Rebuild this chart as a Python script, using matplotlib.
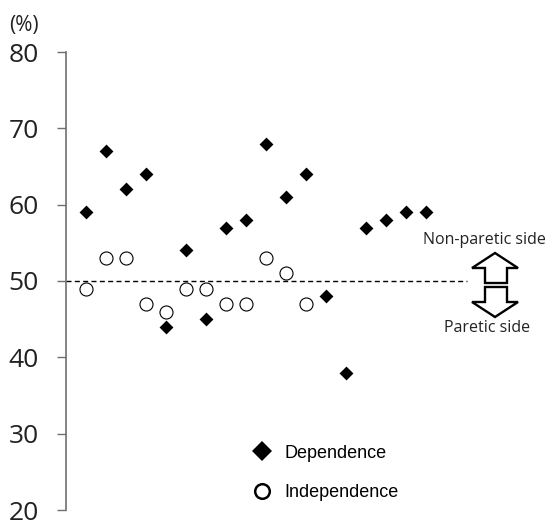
import matplotlib
matplotlib.use("Agg")
import matplotlib.pyplot as plt
from matplotlib.lines import Line2D
from matplotlib.patches import Polygon

# subject index along the x axis
subjects = list(range(1, 19))
dependence = [59, 67, 62, 64, 44, 54, 45, 57, 58, 68, 61, 64, 48, 38, 57, 58, 59, 59]
independence = [49, 53, 53, 47, 46, 49, 49, 47, 47, 53, 51, 47]
y_ticks = [20, 30, 40, 50, 60, 70, 80]
legend_labels = ["Dependence", "Independence"]

W, H = 550, 520


def px(x, y):
    """pixel position (from top-left) -> figure fraction"""
    return x / W, 1 - y / H


fig = plt.figure(figsize=(5.5, 5.2), dpi=100)
ax = fig.add_axes([66 / W, 1 - 510 / H, 462 / W, 458 / H])

ax.hlines(50, 0, 20.05, colors="black", linestyles=(0, (3.6, 2.4)), linewidth=1, zorder=1)
ax.scatter(subjects, dependence, marker="D", s=50, color="black", linewidths=0, zorder=3)
ax.scatter(subjects[:len(independence)], independence, marker="o", s=88,
           facecolors="white", edgecolors="black", linewidths=0.8, zorder=4)

ax.set_xlim(0, 23.1)
ax.set_ylim(20, 80)
ax.set_yticks(y_ticks)
ax.set_xticks([])
for side in ["top", "right", "bottom"]:
    ax.spines[side].set_visible(False)
ax.spines["left"].set_color("#707070")
ax.spines["left"].set_linewidth(1.2)
ax.tick_params(axis="y", direction="out", length=6.5, width=1, color="#707070", pad=13,
               labelsize=19, labelcolor="#222222")
for lab in ax.get_yticklabels():
    lab.set_fontfamily("Open Sans")
    lab.set_clip_on(False)

fig.text(*px(9, 25), "(%)", fontsize=15, family="Open Sans", color="#222222", va="center", ha="left")

# legend
handles = [
    Line2D([], [], linestyle="none", marker="D", markersize=10.5, color="black", markeredgewidth=0),
    Line2D([], [], linestyle="none", marker="o", markersize=10.5, markerfacecolor="white",
           markeredgecolor="black", markeredgewidth=1.8),
]
fig.legend(handles, legend_labels, loc="center left", bbox_to_anchor=px(244, 473),
           frameon=False, borderpad=0, handlelength=1.0, handletextpad=0.75,
           labelspacing=1.25, prop={"family": "Liberation Sans", "size": 13})

# up / down block arrows
up = [(495, 253), (518, 268), (507, 268), (507, 283), (485, 283), (485, 268), (472, 268)]
down = [(485, 287), (507, 287), (507, 302), (518, 302), (495, 317), (472, 302), (485, 302)]
for shape in (up, down):
    fig.add_artist(Polygon([px(x, y) for x, y in shape], closed=True, facecolor="white",
                           edgecolor="black", linewidth=1.7, transform=fig.transFigure))

fig.text(*px(484, 240), "Non-paretic side", fontsize=11.5, family="Open Sans", color="#222222",
         ha="center", va="center")
fig.text(*px(487, 328), "Paretic side", fontsize=11.5, family="Open Sans", color="#222222",
         ha="center", va="center")

fig.savefig("out.png", dpi=100)
